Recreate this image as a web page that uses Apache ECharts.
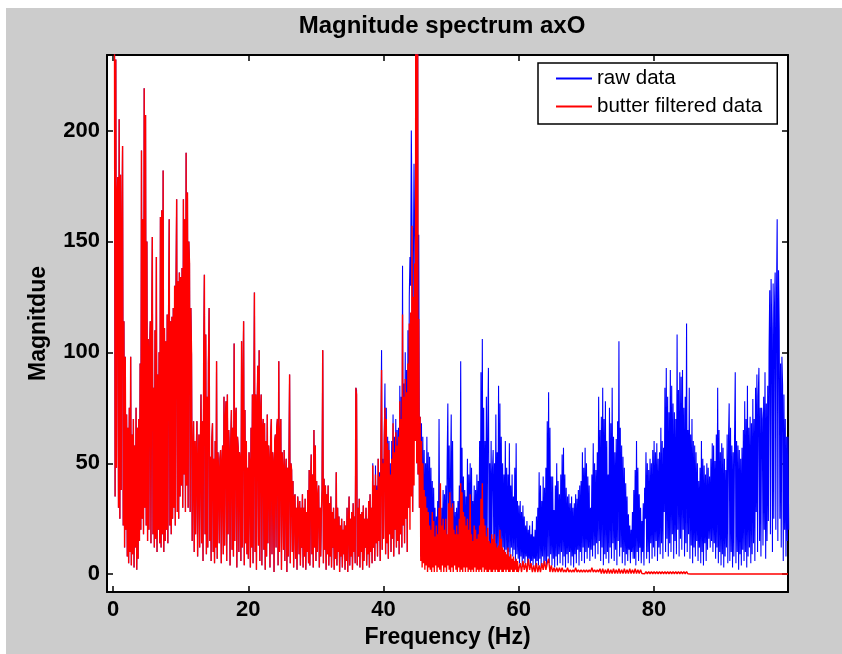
<!DOCTYPE html>
<html>
<head>
<meta charset="utf-8">
<script src="https://cdn.jsdelivr.net/npm/echarts@6/dist/echarts.min.js"></script>
<style>
html,body{margin:0;padding:0;background:#fff;}
#fig{position:absolute;left:6px;top:8px;width:836px;height:646px;}
</style>
</head>
<body>
<div id="fig"></div>
<script>
const xTicks = [0, 20, 40, 60, 80];
const yTicks = [0, 50, 100, 150, 200];
const seriesNames = ['raw data', 'butter filtered data'];

// 0.0 - 35.9 Hz, step 0.1 Hz: raw and filtered coincide here (one row = 1 Hz)
const sharedLowBand = [
 420,300,260,35,232,48,170,179,30,205,
 25,180,38,150,193,22,114,12,98,20,
 72,8,66,5,75,10,98,4,63,9,
 70,3,58,12,75,2,66,7,70,15,
 95,20,191,25,160,18,219,30,207,22,
 150,15,106,20,100,114,14,105,152,18,
 84,12,110,16,143,10,90,20,100,14,
 161,12,164,18,182,10,111,15,105,20,
 117,14,112,160,22,114,18,116,25,120,
 30,130,22,128,169,28,132,25,136,35,
 134,40,138,30,169,45,160,28,190,40,
 172,30,150,140,28,120,99,15,50,69,
 10,60,18,55,69,8,50,63,12,55,
 81,14,69,6,100,135,18,108,9,80,
 12,95,120,15,53,6,60,68,10,52,
 5,60,12,96,7,55,47,14,52,56,
 5,50,58,9,80,13,70,78,6,81,
 18,65,54,4,60,74,11,66,8,104,
 15,70,75,3,62,57,10,55,50,6,
 105,12,80,114,4,74,14,60,9,48,
 7,55,50,3,66,12,81,5,70,127,
 10,81,2,75,94,13,101,6,72,81,
 4,66,70,11,68,2,60,8,72,14,
 58,51,3,62,70,9,55,50,1,60,
 63,12,66,70,4,96,10,62,70,2,
 55,47,11,56,6,45,52,1,48,8,
 50,90,5,50,47,10,42,3,35,36,
 7,30,2,35,28,9,33,4,30,12,
 36,3,30,8,34,2,28,10,38,5,
 47,4,40,54,9,45,3,65,12,58,
 6,42,10,35,40,3,30,8,28,38,
 101,5,43,11,40,2,36,9,40,4,
 32,8,35,3,28,12,30,2,25,7,
 46,4,30,10,26,1,22,8,25,3,
 20,9,24,2,22,6,30,1,21,35,
 4,25,8,28,2,32,10,26,5,84
];

// 36.0 - 45.9 Hz, step 0.1 Hz
const rawBand36to46 = [
 83,4,30,8,34,3,27,10,28,2,
 31,6,25,12,30,4,25,9,33,3,
 36,10,30,5,50,12,40,6,49,14,
 40,8,52,15,46,6,58,101,11,52,
 16,62,86,9,75,14,62,7,60,18,
 50,10,60,16,72,8,62,20,70,12,
 65,15,66,9,85,18,80,12,139,22,
 86,14,100,25,92,10,110,30,125,143,
 130,200,160,28,140,185,150,60,410,50,
 420,45,153,30,71,8,68,10,62,12
];
const filteredBand36to46 = [
 81,4,30,8,34,3,27,10,28,2,
 31,6,25,12,30,4,25,9,33,3,
 36,10,30,5,49,12,40,6,45,14,
 38,8,52,15,44,6,55,92,11,50,
 16,60,75,9,70,14,59,7,56,18,
 45,10,52,16,68,8,55,20,64,12,
 58,15,62,9,78,18,70,12,117,22,
 80,14,88,25,82,10,95,30,113,20,
 118,35,157,28,125,40,140,60,400,50,
 380,45,115,30,71,6,60,3,50,5
];

// 46.0 - 99.9 Hz, step 0.1 Hz
const rawBand46to100 = [
 56,9,50,12,62,7,55,11,53,6,
 48,10,42,7,39,12,30,5,26,10,
 33,8,70,12,28,6,30,11,38,7,
 36,12,40,6,50,77,9,58,10,45,
 72,8,60,12,33,6,28,10,30,7,
 33,11,40,8,96,12,57,6,44,10,
 38,7,35,12,52,8,45,11,50,6,
 48,12,33,9,40,6,38,11,45,8,
 42,12,60,7,91,11,106,9,75,13,
 60,8,80,12,65,93,10,50,7,60,
 12,47,56,9,50,13,72,8,55,11,
 85,7,77,12,62,9,50,12,45,8,
 60,11,48,6,45,10,59,7,40,12,
 45,8,35,11,48,6,59,9,33,7,
 31,5,33,8,28,4,31,7,26,5,
 22,8,24,4,20,7,22,3,18,6,
 24,4,17,7,20,3,26,6,30,4,
 46,7,40,3,33,8,44,4,39,6,
 48,3,69,8,82,5,66,9,44,4,
 44,7,29,3,40,8,50,4,42,9,
 36,5,45,10,54,4,57,8,45,3,
 39,9,35,5,36,10,32,4,35,8,
 30,3,32,9,36,5,34,11,38,4,
 40,10,42,6,55,12,48,5,57,10,
 50,7,44,12,40,6,30,11,45,8,
 59,13,50,7,47,14,55,9,80,15,
 65,6,71,12,84,4,70,9,78,7,
 60,10,45,5,75,12,68,7,84,14,
 62,6,55,11,61,4,69,15,105,8,
 66,12,58,5,53,10,48,4,41,9,
 35,6,27,11,22,5,20,10,28,7,
 38,7,47,4,60,10,48,6,36,12,
 30,5,24,10,32,4,39,25,55,7,
 50,10,47,5,52,14,50,7,56,12,
 60,8,55,15,59,6,52,12,55,9,
 66,14,60,7,57,28,84,10,93,16,
 80,8,73,14,92,10,85,18,77,7,
 73,15,70,9,108,20,83,8,91,16,
 89,11,92,20,75,8,80,14,113,10,
 65,18,84,7,63,13,70,5,60,12,
 58,8,55,15,50,6,42,12,48,5,
 60,10,52,4,49,14,45,6,50,11,
 48,16,44,12,52,15,59,10,58,14,
 51,7,63,12,84,5,65,10,55,4,
 59,9,57,3,52,8,47,12,63,5,
 60,77,6,66,10,58,3,55,8,62,
 91,5,60,10,58,2,56,9,52,4,
 57,11,65,6,78,10,70,3,85,8,
 66,12,71,5,68,9,79,14,70,6,
 84,28,90,10,80,93,15,75,8,75,
 70,13,80,20,91,7,77,15,85,24,
 100,128,18,133,110,10,131,25,120,136,
 20,125,160,15,137,110,25,95,12,98,
 85,6,81,20,70,8,62,15,62,20
];

// 46.0 - 59.9 Hz, step 0.1 Hz
const filteredBand46to60 = [
 38,2,35,4,30,1,28,3,22,2,
 20,1,28,3,24,1,17,4,22,1,
 18,3,30,2,41,1,22,4,25,1,
 20,3,25,1,18,4,32,2,37,1,
 30,3,32,1,20,4,18,2,22,1,
 18,3,25,1,41,2,37,1,28,3,
 26,1,22,3,25,1,20,2,36,1,
 18,2,15,1,22,3,20,1,16,2,
 18,1,22,2,34,1,41,3,25,1,
 22,2,17,1,21,1,15,2,14,1,
 18,1,16,2,18,1,14,2,12,1,
 13,1,20,2,16,1,12,1,11,2,
 10,1,9,2,12,1,8,1,9,2,
 7,1,8,1,6,2,7,1,6,1
];

// 60.0 - 99.8 Hz, step 0.2 Hz
const filteredTail60to100 = [
 1,5,1,6,2,5,1,7,2,5,
 1,4,1,5,1,4,1,5,2,6,
 2,5,7,1,4,1,3,1,3,1,
 3,1,3,1,2,1,3,1,2,1,
 2,1,3,1,2,1,2,1,2,1,
 2,1,2,1,3,1,2,1,2,1,
 2.5,0.3,2.5,0.3,2,0.3,2.5,0.3,2,0.3,
 2.5,0.3,2,0.3,2.5,0.3,2,0.3,2.5,0.3,
 2,0.3,2.5,0.3,2,0.3,2.5,0.3,2,0.3,
 2,0.3,1.2,0.2,1.2,0.2,1.2,0.2,1.2,0.2,
 1.2,0.2,1.2,0.2,1.2,0.2,1.2,0.2,1.2,0.2,
 1.2,0.2,1.2,0.2,1.2,0.2,1.2,0.2,1.2,0.2,
 1.2,0.2,1.2,0.2,1.2,0.2,0.1,0.1,0.1,0.1,
 0.1,0.1,0.1,0.1,0.1,0.1,0.1,0.1,0.1,0.1,
 0.1,0.1,0.1,0.1,0.1,0.1,0.1,0.1,0.1,0.1,
 0.1,0.1,0.1,0.1,0.1,0.1,0.1,0.1,0.1,0.1,
 0.1,0.1,0.1,0.1,0.1,0.1,0.1,0.1,0.1,0.1,
 0.1,0.1,0.1,0.1,0.1,0.1,0.1,0.1,0.1,0.1,
 0.1,0.1,0.1,0.1,0.1,0.1,0.1,0.1,0.1,0.1,
 0.1,0.1,0.1,0.1,0.1,0.1,0.1,0.1,0.1,0.1
];

// turn a band of values into [frequency, magnitude] pairs
const band = (arr, startHz, stepHz) =>
  arr.map((v, i) => [Math.round((startHz + i * stepHz) * 100) / 100, v]);

const rawData = [].concat(
  band(sharedLowBand, 0, 0.1),
  band(rawBand36to46, 36, 0.1),
  band(rawBand46to100, 46, 0.1)
);
const filteredData = [].concat(
  band(sharedLowBand, 0, 0.1),
  band(filteredBand36to46, 36, 0.1),
  band(filteredBand46to60, 46, 0.1),
  band(filteredTail60to100, 60, 0.2)
);

const FONT = "'Liberation Sans', Arial, sans-serif";
const axisLineStyle = { color: '#000', width: 2 };
const tickStyle = { inside: true, length: 6, lineStyle: { color: '#000', width: 1.5 } };

const chart = echarts.init(document.getElementById('fig'), null, { renderer: 'canvas' });
chart.setOption({
  animation: false,
  backgroundColor: '#cccccc',
  title: {
    text: 'Magnitude spectrum axO',
    left: 436, top: 6, padding: 0, textAlign: 'center',
    textStyle: { fontFamily: FONT, fontSize: 24, fontWeight: 'bold', color: '#000' }
  },
  legend: {
    data: seriesNames,
    orient: 'vertical',
    left: 532, top: 55,
    padding: [5, 15, 7, 18],
    itemGap: 7, itemWidth: 36, itemHeight: 2, icon: 'rect',
    backgroundColor: '#fff', borderColor: '#000', borderWidth: 1.5, borderRadius: 0,
    textStyle: { fontFamily: FONT, fontSize: 20.5, color: '#000', lineHeight: 20 }
  },
  grid: { left: 101, top: 47, width: 681, height: 537, show: true, backgroundColor: '#fff', borderWidth: 0, containLabel: false },
  xAxis: [{
    type: 'value', min: -0.9, max: 99.8, position: 'bottom',
    axisLine: { show: true, onZero: false, lineStyle: axisLineStyle },
    axisTick: tickStyle,
    splitLine: { show: false },
    axisLabel: { margin: 7, fontFamily: FONT, fontSize: 22, fontWeight: 'bold', color: '#000',
      formatter: v => (xTicks.indexOf(Math.round(v * 1000) / 1000) >= 0 ? String(v) : '') },
    name: 'Frequency (Hz)', nameLocation: 'middle', nameGap: 34,
    nameTextStyle: { fontFamily: FONT, fontSize: 23, fontWeight: 'bold', color: '#000' }
  }, {
    type: 'value', min: -0.9, max: 99.8, position: 'top',
    axisLine: { show: true, onZero: false, lineStyle: axisLineStyle },
    axisTick: tickStyle, splitLine: { show: false }, axisLabel: { show: false }
  }],
  yAxis: [{
    type: 'value', min: -8, max: 234, position: 'left',
    axisLine: { show: true, onZero: false, lineStyle: axisLineStyle },
    axisTick: tickStyle,
    splitLine: { show: false },
    axisLabel: { margin: 7, fontFamily: FONT, fontSize: 22, fontWeight: 'bold', color: '#000',
      formatter: v => (yTicks.indexOf(Math.round(v * 1000) / 1000) >= 0 ? String(v) : '') },
    name: 'Magnitdue', nameLocation: 'middle', nameGap: 57,
    nameTextStyle: { fontFamily: FONT, fontSize: 23, fontWeight: 'bold', color: '#000' }
  }, {
    type: 'value', min: -8, max: 234, position: 'right',
    axisLine: { show: true, onZero: false, lineStyle: axisLineStyle },
    axisTick: tickStyle, splitLine: { show: false }, axisLabel: { show: false }
  }],
  series: [{
    name: seriesNames[0], type: 'line', data: rawData,
    showSymbol: false, symbol: 'none', clip: true, sampling: null,
    lineStyle: { color: '#0000ff', width: 1.1 }, itemStyle: { color: '#0000ff' }
  }, {
    name: seriesNames[1], type: 'line', data: filteredData,
    showSymbol: false, symbol: 'none', clip: true, sampling: null,
    lineStyle: { color: '#ff0000', width: 1.4 }, itemStyle: { color: '#ff0000' }
  }]
});
</script>
</body>
</html>
